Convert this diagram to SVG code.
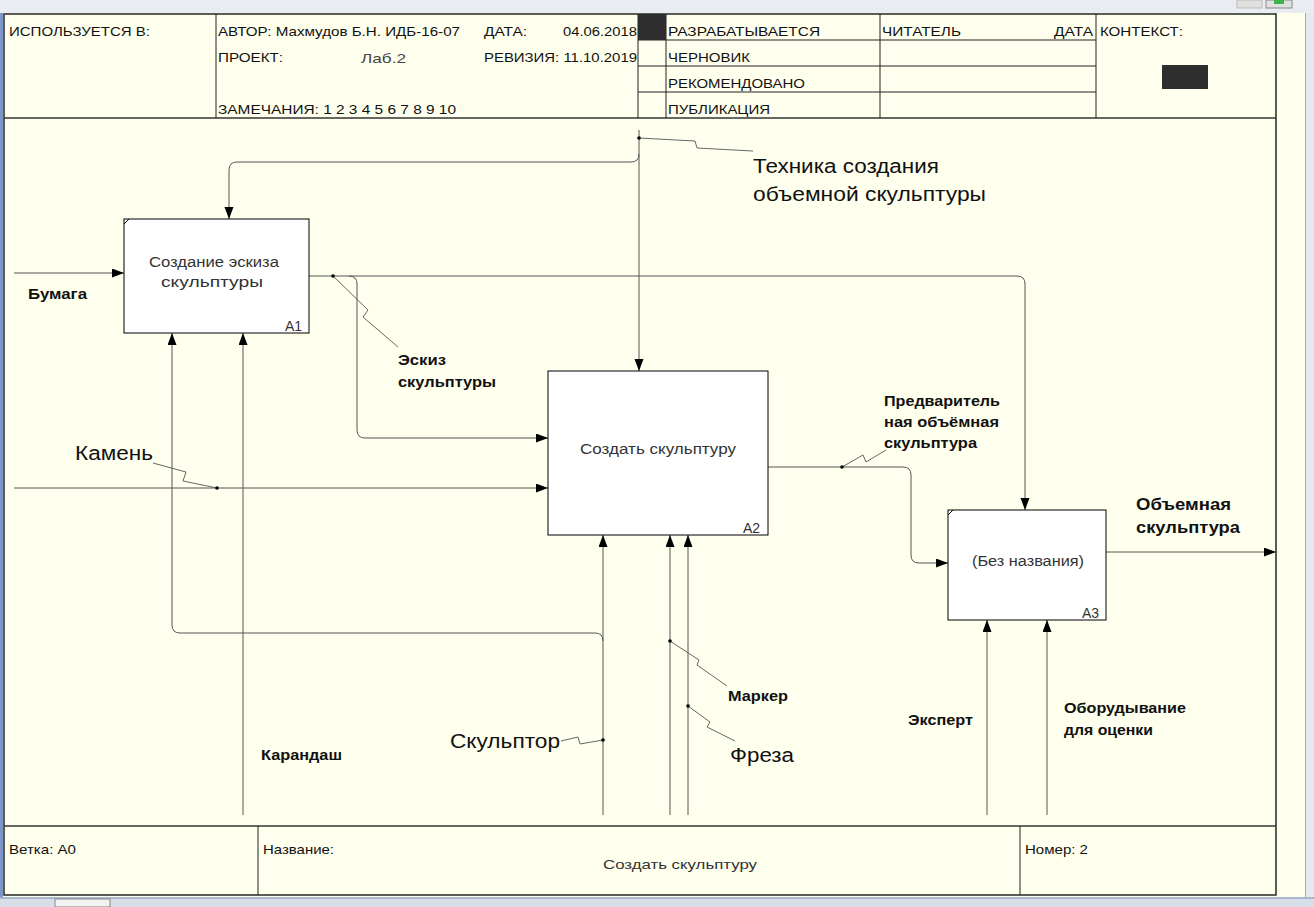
<svg xmlns="http://www.w3.org/2000/svg" width="1314" height="907" viewBox="0 0 1314 907">
<style>
text{font-family:"Liberation Sans",Arial,sans-serif;fill:#111}
.h{font-size:13.5px}
.box{fill:#fff;stroke:#000;stroke-width:1}
.bt{font-size:14px;fill:#333;text-anchor:middle}
.id{font-size:14px;fill:#333}
.c{fill:none;stroke:#555;stroke-width:1}
.sq{fill:none;stroke:#555;stroke-width:0.9}
.lb{font-size:15px;font-weight:bold}
.lr{font-size:20px}
.fr{fill:none;stroke:#333;stroke-width:1.6}
.ln{stroke:#222;stroke-width:1}
</style>
<defs>
<marker id="ar" markerUnits="userSpaceOnUse" markerWidth="12" markerHeight="10" refX="12" refY="4.5" orient="auto">
<path d="M0,0 L12,4.5 L0,9 z" fill="#000"/>
</marker>
</defs>
<rect x="0" y="0" width="1314" height="907" fill="#FFFFEE"/>
<g id="chrome">
<rect x="0" y="0" width="1314" height="13" fill="#E9ECF0"/>
<rect x="1237" y="0" width="25" height="8" fill="#E0E0E0" stroke="#BBB"/>
<rect x="1266" y="0" width="26" height="8" fill="#E0E0E0" stroke="#888"/>
<rect x="1274" y="0" width="10" height="4" fill="#3BB54A"/>
<rect x="0" y="13" width="3" height="884" fill="#7D96C8"/>
<rect x="1305" y="13" width="9" height="884" fill="#E6EAF0"/>
<line x1="1305.5" y1="13" x2="1305.5" y2="897" stroke="#9AA9C8"/>
<rect x="0" y="897" width="1314" height="10" fill="#D8DEE8"/>
<rect x="0" y="897" width="1314" height="2" fill="#A9B7CF"/>
<rect x="55" y="899" width="55" height="8" fill="#F2F2F2" stroke="#888"/>
</g>
<g id="header">
<rect x="4" y="14" width="1272" height="881" class="fr"/>
<line x1="4" y1="118" x2="1276" y2="118" class="fr"/>
<line x1="216" y1="14" x2="216" y2="118" class="ln"/>
<line x1="638" y1="14" x2="638" y2="118" class="ln"/>
<line x1="666" y1="14" x2="666" y2="118" class="ln"/>
<line x1="880" y1="14" x2="880" y2="118" class="ln"/>
<line x1="1096" y1="14" x2="1096" y2="118" class="ln"/>
<line x1="638" y1="40" x2="1096" y2="40" class="ln"/>
<line x1="638" y1="66" x2="1096" y2="66" class="ln"/>
<line x1="638" y1="92" x2="1096" y2="92" class="ln"/>
<rect x="638" y="14" width="28" height="26" fill="#2E2E2E"/>
<rect x="1162" y="65" width="46" height="24" fill="#2E2E2E"/>
<text class="h" x="9" y="36" textLength="141" lengthAdjust="spacingAndGlyphs">ИСПОЛЬЗУЕТСЯ В:</text>
<text class="h" x="218" y="36" textLength="242" lengthAdjust="spacingAndGlyphs">АВТОР: Махмудов Б.Н. ИДБ-16-07</text>
<text class="h" x="484" y="36" textLength="43" lengthAdjust="spacingAndGlyphs">ДАТА:</text>
<text class="h" x="563" y="36" textLength="74" lengthAdjust="spacingAndGlyphs">04.06.2018</text>
<text class="h" x="218" y="62" textLength="65" lengthAdjust="spacingAndGlyphs">ПРОЕКТ:</text>
<text class="h" x="361" y="63" textLength="45" lengthAdjust="spacingAndGlyphs" style="fill:#444">Лаб.2</text>
<text class="h" x="484" y="62" textLength="153" lengthAdjust="spacingAndGlyphs">РЕВИЗИЯ: 11.10.2019</text>
<text class="h" x="218" y="114" textLength="238" lengthAdjust="spacingAndGlyphs">ЗАМЕЧАНИЯ: 1 2 3 4 5 6 7 8 9 10</text>
<text class="h" x="668" y="36" textLength="152" lengthAdjust="spacingAndGlyphs">РАЗРАБАТЫВАЕТСЯ</text>
<text class="h" x="668" y="62" textLength="82" lengthAdjust="spacingAndGlyphs">ЧЕРНОВИК</text>
<text class="h" x="668" y="88" textLength="137" lengthAdjust="spacingAndGlyphs">РЕКОМЕНДОВАНО</text>
<text class="h" x="668" y="114" textLength="102" lengthAdjust="spacingAndGlyphs">ПУБЛИКАЦИЯ</text>
<text class="h" x="882" y="36" textLength="79" lengthAdjust="spacingAndGlyphs">ЧИТАТЕЛЬ</text>
<text class="h" x="1054" y="36" textLength="39" lengthAdjust="spacingAndGlyphs">ДАТА</text>
<text class="h" x="1100" y="36" textLength="83" lengthAdjust="spacingAndGlyphs">КОНТЕКСТ:</text>
</g>
<g id="footer">
<line x1="4" y1="826" x2="1276" y2="826" class="fr"/>
<line x1="258" y1="826" x2="258" y2="895" class="ln"/>
<line x1="1020" y1="826" x2="1020" y2="895" class="ln"/>
<text class="h" x="9" y="854" textLength="67" lengthAdjust="spacingAndGlyphs">Ветка: A0</text>
<text class="h" x="263" y="854" textLength="71" lengthAdjust="spacingAndGlyphs">Название:</text>
<text class="h" x="603" y="869" textLength="154" lengthAdjust="spacingAndGlyphs" style="fill:#333">Создать скульптуру</text>
<text class="h" x="1025" y="854" textLength="63" lengthAdjust="spacingAndGlyphs">Номер: 2</text>
</g>
<g id="connectors">
<path class="c" d="M14,273 H124" marker-end="url(#ar)"/>
<path class="c" d="M639,130 V371" marker-end="url(#ar)"/>
<path class="c" d="M639,154 Q639,162 631,162 H237 Q229,162 229,170 V219" marker-end="url(#ar)"/>
<path class="c" d="M309,276 H1017 Q1025,276 1025,284 V510" marker-end="url(#ar)"/>
<path class="c" d="M349,276 Q357,276 357,284 V430 Q357,438 365,438 H548" marker-end="url(#ar)"/>
<path class="c" d="M14,488 H548" marker-end="url(#ar)"/>
<path class="c" d="M603,815 V535" marker-end="url(#ar)"/>
<path class="c" d="M603,641 Q603,633 595,633 H180 Q172,633 172,625 V333" marker-end="url(#ar)"/>
<path class="c" d="M243,815 V333" marker-end="url(#ar)"/>
<path class="c" d="M670,815 V535" marker-end="url(#ar)"/>
<path class="c" d="M688,815 V535" marker-end="url(#ar)"/>
<path class="c" d="M768,467 H903 Q911,467 911,475 V555 Q911,563 919,563 H948" marker-end="url(#ar)"/>
<path class="c" d="M1106,552 H1276" marker-end="url(#ar)"/>
<path class="c" d="M987,815 V620" marker-end="url(#ar)"/>
<path class="c" d="M1047,815 V620" marker-end="url(#ar)"/>
<path class="sq" d="M639,138 L695,141 L697,148 L753,151"/>
<path class="sq" d="M333,276 L368,310 L363,317 L398,347"/>
<path class="sq" d="M153,463 L186,472 L183,481 L217,488"/>
<path class="sq" d="M842,467 L863,455 L866,462 L886,450"/>
<path class="sq" d="M561,741 L578,737 L580,744 L603,740"/>
<path class="sq" d="M670,641 L699,660 L697,665 L727,686"/>
<path class="sq" d="M688,706 L710,722 L707,727 L735,741"/>
<circle cx="639" cy="138" r="1.8" fill="#000"/>
<circle cx="333" cy="276" r="1.8" fill="#000"/>
<circle cx="217" cy="488" r="1.8" fill="#000"/>
<circle cx="842" cy="467" r="1.8" fill="#000"/>
<circle cx="603" cy="740" r="1.8" fill="#000"/>
<circle cx="670" cy="641" r="1.8" fill="#000"/>
<circle cx="688" cy="706" r="1.8" fill="#000"/>
<text class="lb" x="28" y="299" textLength="59" lengthAdjust="spacingAndGlyphs">Бумага</text>
<text class="lr" x="753" y="173" textLength="186" lengthAdjust="spacingAndGlyphs">Техника создания</text>
<text class="lr" x="753" y="201" textLength="233" lengthAdjust="spacingAndGlyphs">объемной скульптуры</text>
<text class="lb" x="398" y="365" textLength="48" lengthAdjust="spacingAndGlyphs">Эскиз</text>
<text class="lb" x="398" y="387" textLength="98" lengthAdjust="spacingAndGlyphs">скульптуры</text>
<text class="lr" x="75" y="460" textLength="78" lengthAdjust="spacingAndGlyphs">Камень</text>
<text class="lr" x="450" y="748" textLength="110" lengthAdjust="spacingAndGlyphs">Скульптор</text>
<text class="lr" x="730" y="762" textLength="64" lengthAdjust="spacingAndGlyphs">Фреза</text>
<text class="lb" x="261" y="760" textLength="81" lengthAdjust="spacingAndGlyphs">Карандаш</text>
<text class="lb" x="728" y="701" textLength="60" lengthAdjust="spacingAndGlyphs">Маркер</text>
<text class="lb" x="884" y="406" textLength="116" lengthAdjust="spacingAndGlyphs">Предваритель</text>
<text class="lb" x="884" y="427" textLength="115" lengthAdjust="spacingAndGlyphs">ная объёмная</text>
<text class="lb" x="884" y="448" textLength="93" lengthAdjust="spacingAndGlyphs">скульптура</text>
<text class="lb" x="1136" y="510" textLength="95" lengthAdjust="spacingAndGlyphs" style="font-size:17px">Объемная</text>
<text class="lb" x="1136" y="533" textLength="104" lengthAdjust="spacingAndGlyphs" style="font-size:17px">скульптура</text>
<text class="lb" x="908" y="725" textLength="65" lengthAdjust="spacingAndGlyphs">Эксперт</text>
<text class="lb" x="1064" y="713" textLength="122" lengthAdjust="spacingAndGlyphs">Оборудывание</text>
<text class="lb" x="1064" y="735" textLength="89" lengthAdjust="spacingAndGlyphs">для оценки</text>
</g>
<g id="A1">
<rect class="box" x="124" y="219" width="185" height="114"/>
<line x1="124" y1="224" x2="129" y2="219" stroke="#000"/>
<text class="bt" x="214" y="267" textLength="130" lengthAdjust="spacingAndGlyphs">Создание эскиза</text>
<text class="bt" x="212" y="287" textLength="102" lengthAdjust="spacingAndGlyphs">скульптуры</text>
<text class="id" x="285" y="331">A1</text>
</g>
<g id="A2">
<rect class="box" x="548" y="371" width="220" height="164"/>
<text class="bt" x="658" y="454" textLength="156" lengthAdjust="spacingAndGlyphs">Создать скульптуру</text>
<text class="id" x="743" y="533">A2</text>
</g>
<g id="A3">
<rect class="box" x="948" y="510" width="158" height="110"/>
<line x1="948" y1="515" x2="953" y2="510" stroke="#000"/>
<text class="bt" x="1028" y="566" textLength="112" lengthAdjust="spacingAndGlyphs">(Без названия)</text>
<text class="id" x="1082" y="618">A3</text>
</g>
</svg>
